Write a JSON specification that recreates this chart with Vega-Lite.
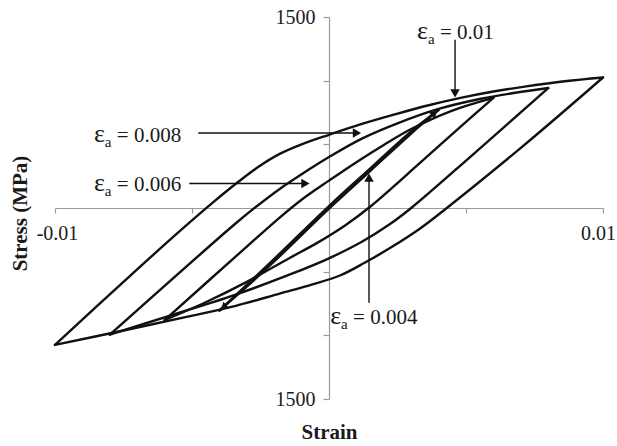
{
  "$schema": "https://vega.github.io/schema/vega-lite/v6.json",
  "width": 548,
  "height": 382,
  "autosize": {"type": "none"},
  "padding": {"left": 55, "top": 17, "right": 14, "bottom": 47},
  "background": "#ffffff",
  "config": {
    "view": {"stroke": null},
    "axis": {
      "grid": false,
      "domainColor": "#9a9a9a",
      "domainWidth": 1.2,
      "tickColor": "#9a9a9a",
      "tickWidth": 1.2,
      "labelFont": "Liberation Serif",
      "labelFontSize": 20,
      "labelColor": "#1a1a1a",
      "labelOverlap": false,
      "labelFlush": false,
      "titleFont": "Liberation Serif",
      "titleFontSize": 21,
      "titleFontWeight": "bold",
      "titleColor": "#1a1a1a"
    }
  },
  "datasets": {
    "loops": [
      {"loop": "0.01", "branch": "up", "i": 0, "strain": -0.01, "stress": -1075},
      {"loop": "0.01", "branch": "up", "i": 1, "strain": -0.0073, "stress": -540},
      {"loop": "0.01", "branch": "up", "i": 2, "strain": -0.0052, "stress": -135},
      {"loop": "0.01", "branch": "up", "i": 3, "strain": -0.0042, "stress": 50},
      {"loop": "0.01", "branch": "up", "i": 4, "strain": -0.0034, "stress": 190},
      {"loop": "0.01", "branch": "up", "i": 5, "strain": -0.0026, "stress": 320},
      {"loop": "0.01", "branch": "up", "i": 6, "strain": -0.0018, "stress": 425},
      {"loop": "0.01", "branch": "up", "i": 7, "strain": -0.001, "stress": 500},
      {"loop": "0.01", "branch": "up", "i": 8, "strain": 0, "stress": 575},
      {"loop": "0.01", "branch": "up", "i": 9, "strain": 0.0012, "stress": 660},
      {"loop": "0.01", "branch": "up", "i": 10, "strain": 0.0024, "stress": 735},
      {"loop": "0.01", "branch": "up", "i": 11, "strain": 0.0036, "stress": 805},
      {"loop": "0.01", "branch": "up", "i": 12, "strain": 0.0048, "stress": 865},
      {"loop": "0.01", "branch": "up", "i": 13, "strain": 0.006, "stress": 915},
      {"loop": "0.01", "branch": "up", "i": 14, "strain": 0.0072, "stress": 955},
      {"loop": "0.01", "branch": "up", "i": 15, "strain": 0.0086, "stress": 995},
      {"loop": "0.01", "branch": "up", "i": 16, "strain": 0.01, "stress": 1025},
      {"loop": "0.01", "branch": "down", "i": 0, "strain": 0.01, "stress": 1025},
      {"loop": "0.01", "branch": "down", "i": 1, "strain": 0.0071, "stress": 490},
      {"loop": "0.01", "branch": "down", "i": 2, "strain": 0.0043, "stress": 0},
      {"loop": "0.01", "branch": "down", "i": 3, "strain": 0.0033, "stress": -165},
      {"loop": "0.01", "branch": "down", "i": 4, "strain": 0.0023, "stress": -305},
      {"loop": "0.01", "branch": "down", "i": 5, "strain": 0.0013, "stress": -430},
      {"loop": "0.01", "branch": "down", "i": 6, "strain": 0.0004, "stress": -530},
      {"loop": "0.01", "branch": "down", "i": 7, "strain": -0.0006, "stress": -600},
      {"loop": "0.01", "branch": "down", "i": 8, "strain": -0.0018, "stress": -672},
      {"loop": "0.01", "branch": "down", "i": 9, "strain": -0.0034, "stress": -768},
      {"loop": "0.01", "branch": "down", "i": 10, "strain": -0.0052, "stress": -855},
      {"loop": "0.01", "branch": "down", "i": 11, "strain": -0.0075, "stress": -962},
      {"loop": "0.01", "branch": "down", "i": 12, "strain": -0.01, "stress": -1075},

      {"loop": "0.008", "branch": "up", "i": 0, "strain": -0.008, "stress": -995},
      {"loop": "0.008", "branch": "up", "i": 1, "strain": -0.0034, "stress": -120},
      {"loop": "0.008", "branch": "up", "i": 2, "strain": -0.0026, "stress": 20},
      {"loop": "0.008", "branch": "up", "i": 3, "strain": -0.0018, "stress": 150},
      {"loop": "0.008", "branch": "up", "i": 4, "strain": -0.001, "stress": 265},
      {"loop": "0.008", "branch": "up", "i": 5, "strain": 0, "stress": 400},
      {"loop": "0.008", "branch": "up", "i": 6, "strain": 0.0012, "stress": 545},
      {"loop": "0.008", "branch": "up", "i": 7, "strain": 0.0025, "stress": 665},
      {"loop": "0.008", "branch": "up", "i": 8, "strain": 0.004, "stress": 778},
      {"loop": "0.008", "branch": "up", "i": 9, "strain": 0.0055, "stress": 856},
      {"loop": "0.008", "branch": "up", "i": 10, "strain": 0.0068, "stress": 905},
      {"loop": "0.008", "branch": "up", "i": 11, "strain": 0.008, "stress": 942},
      {"loop": "0.008", "branch": "down", "i": 0, "strain": 0.008, "stress": 942},
      {"loop": "0.008", "branch": "down", "i": 1, "strain": 0.0052, "stress": 410},
      {"loop": "0.008", "branch": "down", "i": 2, "strain": 0.003, "stress": 0},
      {"loop": "0.008", "branch": "down", "i": 3, "strain": 0.0022, "stress": -130},
      {"loop": "0.008", "branch": "down", "i": 4, "strain": 0.0012, "stress": -265},
      {"loop": "0.008", "branch": "down", "i": 5, "strain": 0, "stress": -395},
      {"loop": "0.008", "branch": "down", "i": 6, "strain": -0.0014, "stress": -520},
      {"loop": "0.008", "branch": "down", "i": 7, "strain": -0.0034, "stress": -680},
      {"loop": "0.008", "branch": "down", "i": 8, "strain": -0.0058, "stress": -845},
      {"loop": "0.008", "branch": "down", "i": 9, "strain": -0.008, "stress": -995},

      {"loop": "0.006", "branch": "up", "i": 0, "strain": -0.006, "stress": -880},
      {"loop": "0.006", "branch": "up", "i": 1, "strain": -0.0034, "stress": -380},
      {"loop": "0.006", "branch": "up", "i": 2, "strain": -0.0018, "stress": -75},
      {"loop": "0.006", "branch": "up", "i": 3, "strain": -0.001, "stress": 65},
      {"loop": "0.006", "branch": "up", "i": 4, "strain": 0, "stress": 215},
      {"loop": "0.006", "branch": "up", "i": 5, "strain": 0.001, "stress": 360},
      {"loop": "0.006", "branch": "up", "i": 6, "strain": 0.002, "stress": 495},
      {"loop": "0.006", "branch": "up", "i": 7, "strain": 0.003, "stress": 620},
      {"loop": "0.006", "branch": "up", "i": 8, "strain": 0.0045, "stress": 765},
      {"loop": "0.006", "branch": "up", "i": 9, "strain": 0.006, "stress": 865},
      {"loop": "0.006", "branch": "down", "i": 0, "strain": 0.006, "stress": 865},
      {"loop": "0.006", "branch": "down", "i": 1, "strain": 0.0046, "stress": 600},
      {"loop": "0.006", "branch": "down", "i": 2, "strain": 0.0033, "stress": 350},
      {"loop": "0.006", "branch": "down", "i": 3, "strain": 0.0015, "stress": 10},
      {"loop": "0.006", "branch": "down", "i": 4, "strain": 0.0006, "stress": -135},
      {"loop": "0.006", "branch": "down", "i": 5, "strain": -0.0004, "stress": -270},
      {"loop": "0.006", "branch": "down", "i": 6, "strain": -0.0015, "stress": -400},
      {"loop": "0.006", "branch": "down", "i": 7, "strain": -0.003, "stress": -580},
      {"loop": "0.006", "branch": "down", "i": 8, "strain": -0.0045, "stress": -740},
      {"loop": "0.006", "branch": "down", "i": 9, "strain": -0.006, "stress": -880},

      {"loop": "0.004", "branch": "up", "i": 0, "strain": -0.004, "stress": -805},
      {"loop": "0.004", "branch": "up", "i": 1, "strain": -0.002, "stress": -400},
      {"loop": "0.004", "branch": "up", "i": 2, "strain": 0, "stress": 15},
      {"loop": "0.004", "branch": "up", "i": 3, "strain": 0.0015, "stress": 310},
      {"loop": "0.004", "branch": "up", "i": 4, "strain": 0.003, "stress": 602},
      {"loop": "0.004", "branch": "up", "i": 5, "strain": 0.004, "stress": 770},
      {"loop": "0.004", "branch": "down", "i": 0, "strain": 0.004, "stress": 770},
      {"loop": "0.004", "branch": "down", "i": 1, "strain": 0.003, "stress": 585},
      {"loop": "0.004", "branch": "down", "i": 2, "strain": 0.0015, "stress": 290},
      {"loop": "0.004", "branch": "down", "i": 3, "strain": 0, "stress": -5},
      {"loop": "0.004", "branch": "down", "i": 4, "strain": -0.002, "stress": -420},
      {"loop": "0.004", "branch": "down", "i": 5, "strain": -0.003, "stress": -618},
      {"loop": "0.004", "branch": "down", "i": 6, "strain": -0.004, "stress": -805}
    ],
    "arrows": [
      {"label": "0.01", "x1": 0.0046, "y1": 1322, "x2": 0.0046, "y2": 900},
      {"label": "0.008", "x1": -0.00477, "y1": 589, "x2": 0.001, "y2": 589},
      {"label": "0.006", "x1": -0.0051, "y1": 192, "x2": -0.0009, "y2": 192},
      {"label": "0.004", "x1": 0.00146, "y1": -745, "x2": 0.00146, "y2": 240}
    ],
    "heads": [
      {"label": "0.01", "strain": 0.0046, "stress": 900, "dir": "down"},
      {"label": "0.008", "strain": 0.00102, "stress": 589, "dir": "right"},
      {"label": "0.006", "strain": -0.00086, "stress": 192, "dir": "right"},
      {"label": "0.004", "strain": 0.00146, "stress": 238, "dir": "up"}
    ],
    "loopheads": [
      {"end": "min", "strain": -0.00385, "stress": -780},
      {"end": "max", "strain": 0.00385, "stress": 745}
    ],
    "labels": [
      {"eps": "ε", "sub": "a", "rest": "= 0.01", "strain": 0.00361, "stress": 1374},
      {"eps": "ε", "sub": "a", "rest": "= 0.008", "strain": -0.00818, "stress": 565},
      {"eps": "ε", "sub": "a", "rest": "= 0.006", "strain": -0.00818, "stress": 181},
      {"eps": "ε", "sub": "a", "rest": "= 0.004", "strain": 0.00044, "stress": -864}
    ]
  },
  "layer": [
    {
      "data": {"name": "loops"},
      "mark": {"type": "line", "color": "#111111", "strokeWidth": 2.4, "strokeJoin": "round", "strokeCap": "round", "interpolate": "catmull-rom"},
      "encoding": {
        "x": {
          "field": "strain", "type": "quantitative",
          "scale": {"domain": [-0.01, 0.01], "nice": false, "zero": false},
          "axis": {
            "title": "Strain", "orient": "bottom", "offset": -191,
            "values": [-0.01, -0.005, 0, 0.005, 0.01],
            "tickSize": 5, "labelPadding": 10,
            "labelExpr": "datum.value < -0.009 ? '-0.01' : (datum.value > 0.009 ? '0.01' : '')",
            "labelOffset": {"condition": {"test": "datum.value > 0.009", "value": -5}, "value": 2},
            "titleY": 224, "titleBaseline": "middle"
          }
        },
        "y": {
          "field": "stress", "type": "quantitative",
          "scale": {"domain": [-1500, 1500], "nice": false, "zero": false},
          "axis": {
            "title": "Stress (MPa)", "orient": "left", "offset": -274,
            "values": [-1500, -1000, -500, 0, 500, 1000, 1500],
            "tickSize": 6, "labelPadding": 8,
            "labelExpr": "abs(datum.value) > 1400 ? '1500' : ''",
            "titleX": -309, "titleY": 196, "titleBaseline": "middle", "titleAngle": 270
          }
        },
        "detail": [{"field": "loop"}, {"field": "branch"}],
        "order": {"field": "i", "type": "quantitative"}
      }
    },
    {
      "data": {"name": "arrows"},
      "mark": {"type": "rule", "color": "#111111", "strokeWidth": 1.4},
      "encoding": {
        "x": {"field": "x1", "type": "quantitative", "scale": {"domain": [-0.01, 0.01], "nice": false, "zero": false}},
        "y": {"field": "y1", "type": "quantitative", "scale": {"domain": [-1500, 1500], "nice": false, "zero": false}},
        "x2": {"field": "x2"},
        "y2": {"field": "y2"}
      }
    },
    {
      "data": {"name": "heads"},
      "mark": {"type": "point", "filled": true, "color": "#111111", "size": 90, "opacity": 1, "strokeWidth": 0},
      "encoding": {
        "x": {"field": "strain", "type": "quantitative", "scale": {"domain": [-0.01, 0.01], "nice": false, "zero": false}},
        "y": {"field": "stress", "type": "quantitative", "scale": {"domain": [-1500, 1500], "nice": false, "zero": false}},
        "shape": {"field": "dir", "type": "nominal", "scale": {"domain": ["right", "down", "up"], "range": ["triangle-right", "triangle-down", "triangle-up"]}, "legend": null}
      }
    },
    {
      "data": {"name": "loopheads"},
      "transform": [{"filter": "datum.end == 'min'"}],
      "mark": {"type": "point", "shape": "triangle-up", "angle": 228, "filled": true, "color": "#111111", "size": 70, "opacity": 1, "strokeWidth": 0},
      "encoding": {
        "x": {"field": "strain", "type": "quantitative", "scale": {"domain": [-0.01, 0.01], "nice": false, "zero": false}},
        "y": {"field": "stress", "type": "quantitative", "scale": {"domain": [-1500, 1500], "nice": false, "zero": false}}
      }
    },
    {
      "data": {"name": "loopheads"},
      "transform": [{"filter": "datum.end == 'max'"}],
      "mark": {"type": "point", "shape": "triangle-up", "angle": 48, "filled": true, "color": "#111111", "size": 70, "opacity": 1, "strokeWidth": 0},
      "encoding": {
        "x": {"field": "strain", "type": "quantitative", "scale": {"domain": [-0.01, 0.01], "nice": false, "zero": false}},
        "y": {"field": "stress", "type": "quantitative", "scale": {"domain": [-1500, 1500], "nice": false, "zero": false}}
      }
    },
    {
      "data": {"name": "labels"},
      "mark": {"type": "text", "align": "right", "baseline": "middle", "font": "Liberation Serif", "fontSize": 26, "color": "#1a1a1a", "dy": -2},
      "encoding": {
        "x": {"field": "strain", "type": "quantitative", "scale": {"domain": [-0.01, 0.01], "nice": false, "zero": false}},
        "y": {"field": "stress", "type": "quantitative", "scale": {"domain": [-1500, 1500], "nice": false, "zero": false}},
        "text": {"field": "eps"}
      }
    },
    {
      "data": {"name": "labels"},
      "mark": {"type": "text", "align": "left", "baseline": "middle", "font": "Liberation Serif", "fontSize": 15, "color": "#1a1a1a", "dx": 0, "dy": 6},
      "encoding": {
        "x": {"field": "strain", "type": "quantitative", "scale": {"domain": [-0.01, 0.01], "nice": false, "zero": false}},
        "y": {"field": "stress", "type": "quantitative", "scale": {"domain": [-1500, 1500], "nice": false, "zero": false}},
        "text": {"field": "sub"}
      }
    },
    {
      "data": {"name": "labels"},
      "mark": {"type": "text", "align": "left", "baseline": "middle", "font": "Liberation Serif", "fontSize": 21, "color": "#1a1a1a", "dx": 12},
      "encoding": {
        "x": {"field": "strain", "type": "quantitative", "scale": {"domain": [-0.01, 0.01], "nice": false, "zero": false}},
        "y": {"field": "stress", "type": "quantitative", "scale": {"domain": [-1500, 1500], "nice": false, "zero": false}},
        "text": {"field": "rest"}
      }
    }
  ]
}
